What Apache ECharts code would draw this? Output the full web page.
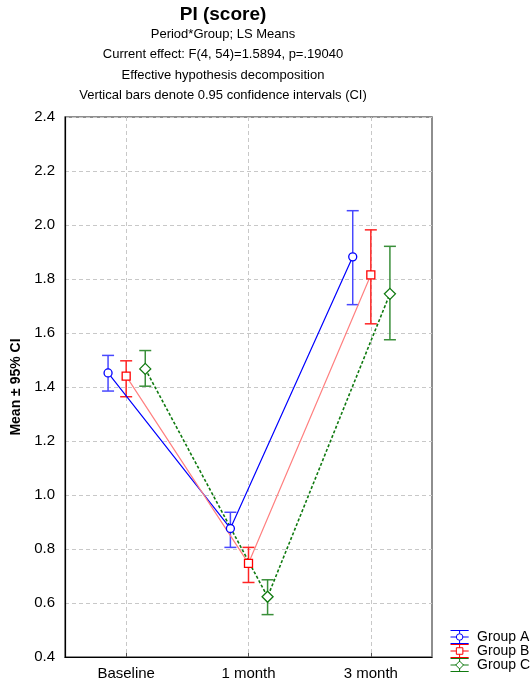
<!DOCTYPE html>
<html><head><meta charset="utf-8">
<script src="https://cdn.jsdelivr.net/npm/echarts@6/dist/echarts.min.js"></script>
<style>html,body{margin:0;padding:0;background:#fff}#c{width:530px;height:685px}</style>
</head><body><div id="c"></div>
<script>
const categories = ['Baseline', '1 month', '3 month'];
const groups = ['Group A', 'Group B', 'Group C'];
const meanA = [1.452, 0.876, 1.882];
const lowA  = [1.385, 0.806, 1.705];
const highA = [1.517, 0.936, 2.053];
const meanB = [1.440, 0.747, 1.815];
const lowB  = [1.364, 0.676, 1.634];
const highB = [1.497, 0.806, 1.982];
const meanC = [1.467, 0.623, 1.745];
const lowC  = [1.403, 0.557, 1.575];
const highC = [1.535, 0.686, 1.921];
const titleLines = [
  'Period*Group; LS Means',
  'Current effect: F(4, 54)=1.5894, p=.19040',
  'Effective hypothesis decomposition',
  'Vertical bars denote 0.95 confidence intervals (CI)'
];

const FONT = 'Liberation Sans, Arial, sans-serif';
const offsets = [-0.148, 0, 0.156];
const lineColors = ['#0000ff', '#ff8080', '#107a10'];
const markColors = ['#0000ff', '#ff0000', '#107a10'];
const barColors = ['#4848ff', '#ff2424', '#3a8f3a'];
const symbols = ['circle', 'rect', 'diamond'];
const symSizes = [8, 8, 11];
const means = [meanA, meanB, meanC];
const lows = [lowA, lowB, lowC];
const highs = [highA, highB, highC];

const series = [];
groups.forEach((g, gi) => {
  const pts = categories.map((c, i) => [i + offsets[gi], means[gi][i]]);
  const bars = categories.map((c, i) => [i + offsets[gi], lows[gi][i], highs[gi][i]]);
  series.push({
    name: g, type: 'custom', z: 2,
    data: bars,
    renderItem: function (params, api) {
      const x = api.value(0);
      const lo = api.coord([x, api.value(1)]);
      const hi = api.coord([x, api.value(2)]);
      const hw = 6;
      const st = { stroke: barColors[gi], lineWidth: 1.5 };
      return { type: 'group', children: [
        { type: 'line', shape: { x1: lo[0], y1: lo[1], x2: hi[0], y2: hi[1] }, style: st },
        { type: 'line', shape: { x1: lo[0] - hw, y1: lo[1], x2: lo[0] + hw, y2: lo[1] }, style: st },
        { type: 'line', shape: { x1: hi[0] - hw, y1: hi[1], x2: hi[0] + hw, y2: hi[1] }, style: st }
      ]};
    },
    silent: true
  });
  series.push({
    name: g, type: 'line', z: 3,
    data: pts,
    symbol: symbols[gi], symbolSize: symSizes[gi],
    showSymbol: true,
    itemStyle: { color: '#fff', borderColor: markColors[gi], borderWidth: 1.3 },
    lineStyle: { color: lineColors[gi], width: gi === 2 ? 1.6 : 1.2, type: gi === 2 ? [3, 2] : 'solid' },
    emphasis: { disabled: true },
    animation: false
  });
});

const iconBase = 'M0,0H28M0,20H28M0,10H9M19,10H28M14,0V5M14,15V20';
const icons = [
  'path://' + iconBase + 'M19,10A5,5 0 1,1 9,10A5,5 0 1,1 19,10',
  'path://' + iconBase + 'M9,5H19V15H9Z',
  'path://' + iconBase + 'M14,4L20,10L14,16L8,10Z'
];

const graphic = [{
  type: 'text', x: 223, y: 15,
  style: { text: 'PI (score)', font: 'bold 19px ' + FONT, fill: '#000', align: 'center', verticalAlign: 'middle' }
}];
const ys = [34, 54.5, 75, 95.5];
titleLines.forEach((t, i) => graphic.push({
  type: 'text', x: 223, y: ys[i],
  style: { text: t, font: '13px ' + FONT, fill: '#000', align: 'center', verticalAlign: 'middle' }
}));

const chart = echarts.init(document.getElementById('c'), null, { renderer: 'canvas' });
chart.setOption({
  animation: false,
  backgroundColor: '#fff',
  graphic: graphic,
  grid: { left: 65, right: 98, top: 117, bottom: 28, show: true, borderColor: '#6a6a6a', borderWidth: 1.5, containLabel: false },
  legend: {
    orient: 'vertical', left: 448, top: 628, width: 90, height: 120, padding: 0, itemGap: -4, itemWidth: 19, itemHeight: 13,
    textStyle: { fontSize: 14, lineHeight: 14, fontFamily: FONT, color: '#000', padding: [0, 0, 0, 3] },
    selectedMode: false,
    data: groups.map((g, gi) => ({
      name: g, icon: icons[gi],
      itemStyle: { color: 'none', borderColor: markColors[gi], borderWidth: 1 }
    }))
  },
  xAxis: {
    type: 'value', min: -0.5, max: 2.5,
    axisLine: { show: true, onZero: false, lineStyle: { color: '#000', width: 1.2 } },
    axisTick: { show: true, inside: true, length: 4, customValues: [0, 1, 2], lineStyle: { color: '#555' } },
    axisLabel: { customValues: [0, 1, 2], formatter: v => categories[Math.round(v)], fontSize: 15, fontFamily: FONT, color: '#000', margin: 9 },
    splitLine: { show: true, lineStyle: { color: '#c8c8c8', type: [4, 3] } }
  },
  yAxis: {
    type: 'value', min: 0.4, max: 2.4, interval: 0.2,
    name: 'Mean ± 95% CI', nameLocation: 'middle', nameGap: 36,
    nameTextStyle: { fontSize: 14, fontWeight: 'bold', fontFamily: FONT, color: '#000' },
    axisLine: { show: true, onZero: false, lineStyle: { color: '#000', width: 1.2 } },
    axisTick: { show: false },
    axisLabel: { formatter: v => v.toFixed(1), fontSize: 15, fontFamily: FONT, color: '#000', margin: 10 },
    splitLine: { show: true, lineStyle: { color: '#c8c8c8', type: [4, 3] } }
  },
  series: series
});
</script></body></html>
